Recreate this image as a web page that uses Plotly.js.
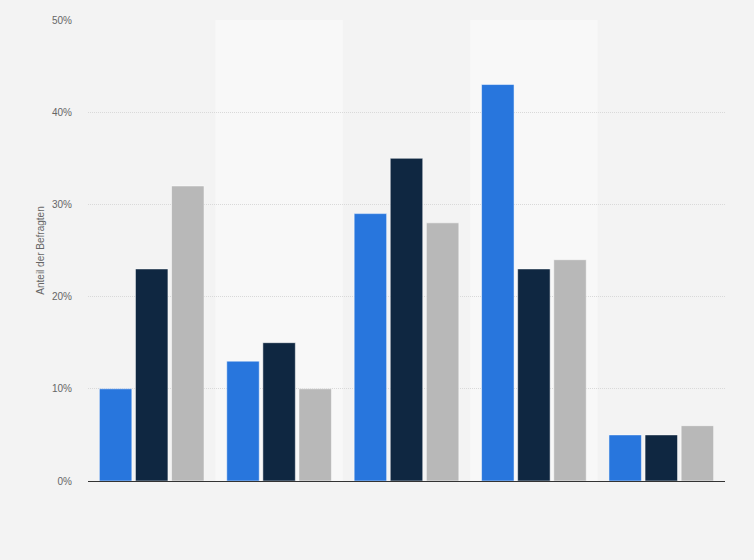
<!DOCTYPE html>
<html>
<head>
<meta charset="utf-8">
<script src="https://cdn.plot.ly/plotly-3.0.1.min.js"></script>
<style>
  html, body { margin: 0; padding: 0; background: #f3f3f3; }
  #chart { width: 754px; height: 560px; }
</style>
</head>
<body>
<div id="chart"></div>
<script>
// Kategorien (im Original ohne Beschriftung)
var kategorien = ["Kategorie 1", "Kategorie 2", "Kategorie 3", "Kategorie 4", "Kategorie 5"];
var serie1 = [10, 13, 29, 43, 5];
var serie2 = [23, 15, 35, 23, 5];
var serie3 = [32, 10, 28, 24, 6];
var yTicks = [0, 10, 20, 30, 40, 50];
var yTickLabels = ["0%", "10%", "20%", "30%", "40%", "50%"];

var farben = ["#2876dd", "#0f2741", "#b8b8b8"];
var werte = [serie1, serie2, serie3];

var data = werte.map(function (w, i) {
  return {
    x: kategorien,
    y: w,
    type: "bar",
    name: "Serie " + (i + 1),
    marker: { color: farben[i], line: { color: "rgba(255,255,255,0.5)", width: 1 } },
    hoverinfo: "y"
  };
});

// hellere Hintergrundstreifen fuer jede zweite Kategorie
var streifen = [1, 3].map(function (k) {
  return {
    type: "rect", xref: "x", yref: "paper",
    x0: k - 0.5, x1: k + 0.5, y0: 0, y1: 1,
    fillcolor: "#f8f8f8", line: { width: 0 }, layer: "below"
  };
});

var layout = {
  width: 754,
  height: 560,
  margin: { l: 88, r: 29, t: 20, b: 79 },
  paper_bgcolor: "#f3f3f3",
  plot_bgcolor: "#f3f3f3",
  barmode: "group",
  bargap: 0.15,
  bargroupgap: 0.1,
  showlegend: false,
  font: { family: "Liberation Sans, Arial, sans-serif", size: 10, color: "#666" },
  shapes: streifen,
  xaxis: {
    type: "category",
    showticklabels: false,
    showgrid: false,
    zeroline: false,
    showline: true,
    linecolor: "#333",
    linewidth: 1.2,
    ticks: "",
    fixedrange: true
  },
  yaxis: {
    range: [0, 50],
    tickvals: yTicks,
    ticktext: yTickLabels,
    showgrid: true,
    gridcolor: "#d9d9d9",
    griddash: "1px,1px",
    gridwidth: 1,
    zeroline: false,
    showline: false,
    ticks: "",
    ticklabelstandoff: 15,
    tickfont: { size: 10, color: "#666" },
    title: { text: "Anteil der Befragten", font: { size: 10, color: "#666" }, standoff: 5 },
    fixedrange: true
  }
};

Plotly.newPlot("chart", data, layout, { displayModeBar: false, staticPlot: true });
</script>
</body>
</html>
